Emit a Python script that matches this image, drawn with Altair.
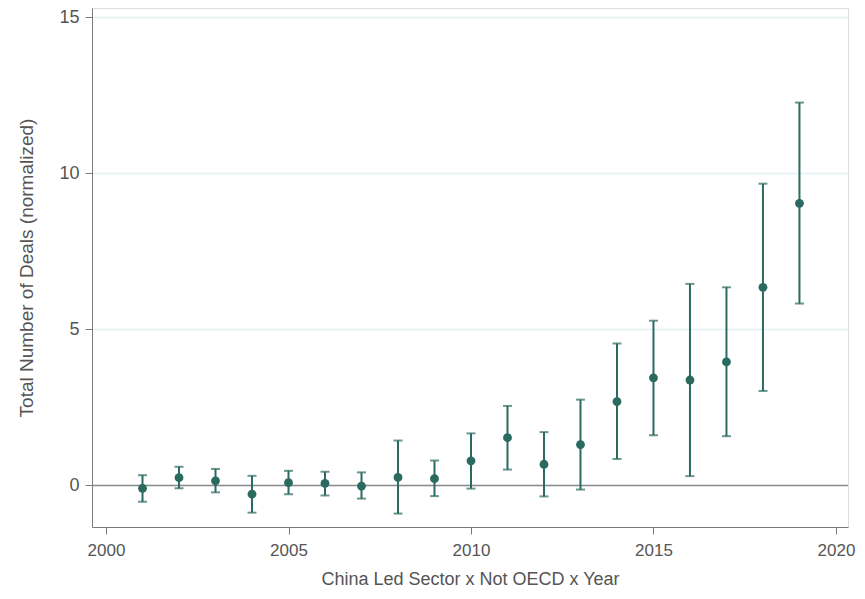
import altair as alt
import pandas as pd

years = list(range(2001, 2020))
estimate = [-0.09, 0.25, 0.15, -0.28, 0.09, 0.07, -0.02, 0.26, 0.22, 0.79,
            1.53, 0.68, 1.31, 2.69, 3.45, 3.38, 3.96, 6.35, 9.04]
lower = [-0.52, -0.09, -0.22, -0.87, -0.28, -0.32, -0.42, -0.90, -0.34, -0.10,
         0.51, -0.35, -0.13, 0.85, 1.61, 0.30, 1.58, 3.03, 5.83]
upper = [0.33, 0.60, 0.53, 0.31, 0.47, 0.44, 0.42, 1.44, 0.80, 1.67,
         2.55, 1.71, 2.75, 4.55, 5.28, 6.46, 6.35, 9.67, 12.27]
x_ticks = [2000, 2005, 2010, 2015, 2020]
y_ticks = [0, 5, 10, 15]

df = pd.DataFrame({"year": years, "est": estimate, "lo": lower, "hi": upper})

COLOR = "#2b6a61"
FONT = "Liberation Sans"

xs = alt.Scale(domain=[1999.616, 2020.33], nice=False, zero=False)
ys = alt.Scale(domain=[-1.33, 15.30], nice=False, zero=False)

xenc = alt.X("year:Q", scale=xs,
             axis=alt.Axis(values=x_ticks, format="d", title="China Led Sector x Not OECD x Year",
                           grid=False, domainColor="#7a7a7a", tickColor="#7a7a7a", tickSize=7,
                           labelFontSize=17, labelColor="#555555", labelFont=FONT, labelPadding=8,
                           titleFont=FONT, titleFontSize=18, titleFontWeight="normal",
                           titleColor="#555555", titlePadding=12))
yaxis = alt.Axis(values=y_ticks, title="Total Number of Deals (normalized)",
                 grid=True, gridColor="#e4eff1", gridWidth=1.5,
                 domainColor="#7a7a7a", tickColor="#7a7a7a", tickSize=7,
                 labelFontSize=18, labelColor="#555555", labelFont=FONT, labelPadding=6,
                 titleFont=FONT, titleFontSize=19, titleFontWeight="normal",
                 titleColor="#555555", titlePadding=22)

base = alt.Chart(df)

zero = alt.Chart(pd.DataFrame({"z": [0]})).mark_rule(color="#8a8a8a", strokeWidth=1.5).encode(
    y=alt.Y("z:Q", scale=ys, axis=yaxis))

rules = base.mark_rule(color=COLOR, strokeWidth=2).encode(
    x=xenc, y=alt.Y("lo:Q", scale=ys), y2="hi:Q")
caps_lo = base.mark_tick(color=COLOR, orient="horizontal", size=9, thickness=2).encode(
    x=alt.X("year:Q", scale=xs), y=alt.Y("lo:Q", scale=ys))
caps_hi = base.mark_tick(color=COLOR, orient="horizontal", size=9, thickness=2).encode(
    x=alt.X("year:Q", scale=xs), y=alt.Y("hi:Q", scale=ys))
points = base.mark_circle(color=COLOR, size=78, opacity=1).encode(
    x=alt.X("year:Q", scale=xs), y=alt.Y("est:Q", scale=ys))

chart = alt.layer(zero, rules, caps_lo, caps_hi, points).properties(
    width=756, height=519,
    autosize=alt.AutoSizeParams(type="none"),
    padding={"left": 84, "top": 0, "right": 9, "bottom": 64},
).configure_view(stroke=None).configure(background="white")

chart.save("out.html", embed_options={"renderer": "svg", "actions": False})
